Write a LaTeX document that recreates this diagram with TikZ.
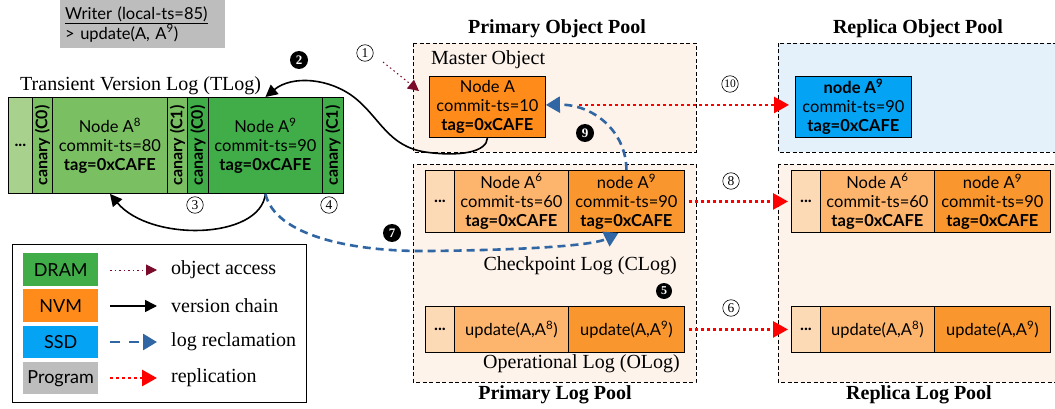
\documentclass[tikz,border=0pt]{standalone}
\usepackage{fontspec}
\usepackage{graphicx}
\setmainfont{Liberation Serif}
\newfontfamily\sansf{Lato}
\usetikzlibrary{arrows.meta}

% memory tiers
\definecolor{tlight}{HTML}{A9D18E}
\definecolor{tmid}{HTML}{7BBF63}
\definecolor{tdark}{HTML}{40AD48}
\definecolor{nvm}{HTML}{FF8C1A}
\definecolor{nvmB}{HTML}{F9962E}
\definecolor{nvmC}{HTML}{FDB56D}
\definecolor{nvmD}{HTML}{FDDAB6}
\definecolor{ssd}{HTML}{04A3F4}
\definecolor{prog}{HTML}{BDBDBD}
\definecolor{poolpeach}{HTML}{FDF3EA}
\definecolor{poolblue}{HTML}{E4F1FA}
\definecolor{reclaimblue}{HTML}{2F66A3}
\definecolor{accessred}{HTML}{7B0A2A}

\newcommand\sanstext{\sansf\fontsize{16.5}{19}\selectfont}
\newcommand\canarytext{\sansf\bfseries\fontsize{16}{16}\selectfont}
\newcommand\seriftext{\fontsize{20}{22}\selectfont}
\newcommand\titletext{\bfseries\fontsize{20}{22}\selectfont}
\newcommand\canary[1]{\rotatebox{90}{canary (#1)}}

\begin{document}
\begin{tikzpicture}[x=1pt,y=-1pt,
  cell/.style={draw, line width=0.9pt, anchor=north west, inner sep=0pt,
    align=center, font=\sanstext},
  canarycell/.style={cell, font=\canarytext},
  pool/.style={draw, line width=0.8pt, dash pattern=on 4pt off 2.5pt},
  label/.style={font=\seriftext, inner sep=0pt},
  pooltitle/.style={font=\titletext, inner sep=0pt},
  openno/.style={circle, draw, line width=0.6pt, inner sep=0pt,
    minimum size=16.5pt, font=\fontsize{13.5}{13.5}\selectfont},
  filledno/.style={circle, fill=black, text=white, inner sep=0pt,
    minimum size=18pt, font=\bfseries\fontsize{13}{13}\selectfont},
  chain/.style={line width=1.6pt, -{Triangle[length=12pt,width=12pt]}},
  reclaim/.style={line width=2.6pt, reclaimblue, dash pattern=on 8pt off 5pt,
    -{Triangle[length=14pt,width=16pt]}},
  repl/.style={line width=2.8pt, red, dash pattern=on 3pt off 3pt,
    -{Triangle[length=15pt,width=16pt]}},
  access/.style={line width=1pt, accessred, dash pattern=on 1.5pt off 3pt,
    -{Triangle[length=11pt,width=11pt]}},
  keybox/.style={anchor=north west, minimum width=75pt, minimum height=33pt,
    inner sep=0pt, font=\sansf\fontsize{18}{18}\selectfont},
]
\useasboundingbox (0,0) rectangle (1055,409);

% ---------- pools ----------
\draw[pool, fill=poolpeach] (413,43) rectangle (696,152);
\draw[pool, fill=poolpeach] (413,164) rectangle (696,382);
\draw[pool, fill=poolblue] (778,43) rectangle (1062,152);
\draw[pool, fill=poolpeach] (778,164) rectangle (1062,382);

\node[pooltitle] (tpo) at (557,29) {Primary Object Pool};
\node[pooltitle] (tro) at (918,29) {Replica Object Pool};
\node[pooltitle] (tpl) at (555,395) {Primary Log Pool};
\node[pooltitle] (trl) at (919,395) {Replica Log Pool};

% ---------- writer ----------
\node[fill=prog, anchor=north west, minimum width=165pt, minimum height=48pt,
  text width=155pt, align=left, inner sep=5pt, font=\sansf\fontsize{16.5}{20}\selectfont]
  (writer) at (60,0) {\underline{Writer (local-ts=85)}\\> update(A, A\textsuperscript{9})};

% ---------- transient version log ----------
\node[label, anchor=west] (tlogl) at (20,86) {Transient Version Log (TLog)};
\node[cell, fill=tlight, minimum width=24pt, minimum height=96pt] (tdots) at (8,97) {\textbf{...}};
\node[canarycell, fill=tmid, minimum width=20pt, minimum height=96pt] (tc0a) at (32,97) {\canary{C0}};
\node[cell, fill=tmid, minimum width=115pt, minimum height=96pt] (tA8) at (52,97)
  {Node A\textsuperscript{8}\\commit-ts=80\\\textbf{tag=0xCAFE}};
\node[canarycell, fill=tmid, minimum width=20pt, minimum height=96pt] (tc1a) at (167,97) {\canary{C1}};
\node[canarycell, fill=tdark, minimum width=21pt, minimum height=96pt] (tc0b) at (187,97) {\canary{C0}};
\node[cell, fill=tdark, minimum width=114pt, minimum height=96pt] (tA9) at (208,97)
  {Node A\textsuperscript{9}\\commit-ts=90\\\textbf{tag=0xCAFE}};
\node[canarycell, fill=tdark, minimum width=21pt, minimum height=96pt] (tc1b) at (322,97) {\canary{C1}};

% ---------- primary object pool ----------
\node[label, anchor=west] (mol) at (431,60) {Master Object};
\node[cell, fill=nvm, minimum width=116pt, minimum height=61pt] (nodeA) at (429,76)
  {Node A\\commit-ts=10\\\textbf{tag=0xCAFE}};

% ---------- primary log pool ----------
\node[cell, fill=nvmD, minimum width=29pt, minimum height=62pt] (cdots) at (425,170) {\textbf{...}};
\node[cell, fill=nvmC, minimum width=114pt, minimum height=62pt] (cA6) at (454,170)
  {Node A\textsuperscript{6}\\commit-ts=60\\\textbf{tag=0xCAFE}};
\node[cell, fill=nvmB, minimum width=116pt, minimum height=62pt] (cA9) at (568,170)
  {node A\textsuperscript{9}\\commit-ts=90\\\textbf{tag=0xCAFE}};
\node[label, anchor=east] (clogl) at (677,266) {Checkpoint Log (CLog)};

\node[cell, fill=nvmD, minimum width=29pt, minimum height=46pt] (odots) at (425,306) {\textbf{...}};
\node[cell, fill=nvmC, minimum width=114pt, minimum height=46pt] (oA8) at (454,306) {update(A,A\textsuperscript{8})};
\node[cell, fill=nvmB, minimum width=116pt, minimum height=46pt] (oA9) at (568,306) {update(A,A\textsuperscript{9})};
\node[label, anchor=east] (ologl) at (680,364) {Operational Log (OLog)};

% ---------- replica pools ----------
\node[cell, fill=ssd, minimum width=116pt, minimum height=61pt] (rA9) at (795,76)
  {\textbf{node A\textsuperscript{9}}\\commit-ts=90\\\textbf{tag=0xCAFE}};

\node[cell, fill=nvmD, minimum width=29pt, minimum height=62pt] (rcdots) at (791,170) {\textbf{...}};
\node[cell, fill=nvmC, minimum width=114pt, minimum height=62pt] (rcA6) at (820,170)
  {Node A\textsuperscript{6}\\commit-ts=60\\\textbf{tag=0xCAFE}};
\node[cell, fill=nvmB, minimum width=116pt, minimum height=62pt] (rcA9) at (934,170)
  {node A\textsuperscript{9}\\commit-ts=90\\\textbf{tag=0xCAFE}};

\node[cell, fill=nvmD, minimum width=29pt, minimum height=46pt] (rodots) at (791,306) {\textbf{...}};
\node[cell, fill=nvmC, minimum width=114pt, minimum height=46pt] (roA8) at (820,306) {update(A,A\textsuperscript{8})};
\node[cell, fill=nvmB, minimum width=116pt, minimum height=46pt] (roA9) at (934,306) {update(A,A\textsuperscript{9})};

% ---------- connectors ----------
\coordinate (accstart) at (383,62);
\coordinate (acctip) at (419,91);
\draw[access] (accstart) -- (acctip);

\draw[chain] (nodeA.south) .. controls (487,152) and (460,157) .. (425,152)
  .. controls (388,146) and (380,118) .. (355,98)
  .. controls (330,78) and (292,75) .. (tA9.north);
\draw[chain] (tA9.south) .. controls (260,240) and (150,242) .. (tA8.south);

\draw[reclaim] (tA9.south) .. controls (275,235) and (350,252) .. (430,251)
  .. controls (520,250) and (592,246) .. ([xshift=-8pt]cA9.south);
\draw[reclaim] (cA9.north) .. controls (626,130) and (592,104) .. ([yshift=2pt]nodeA.east);

\draw[repl, shorten <=33pt, shorten >=6pt] ([yshift=2pt]nodeA.east) -- ([yshift=2pt]rA9.west);
\draw[repl, shorten <=4pt, shorten >=3pt] (cA9.east) -- (rcdots.west);
\draw[repl, shorten <=4pt, shorten >=3pt] (oA9.east) -- (rodots.west);

% ---------- step numbers ----------
\node[openno] (n1) at (365,53) {1};
\node[filledno] (n2) at (299,60) {2};
\node[openno] (n3) at (195,205) {3};
\node[openno] (n4) at (329,205) {4};
\node[filledno, minimum size=16pt, font=\bfseries\fontsize{12}{12}\selectfont] (n5) at (664,291) {5};
\node[openno] (n6) at (731,308) {6};
\node[filledno] (n7) at (392,233) {7};
\node[openno] (n8) at (731,181) {8};
\node[filledno] (n9) at (585,133) {9};
\node[openno, font=\fontsize{11.5}{11.5}\selectfont] (n10) at (730,84) {10};

% ---------- legend ----------
\node[draw, line width=0.9pt, fill=white, anchor=north west, minimum width=294pt,
  minimum height=158pt] (legend) at (12,244) {};
\node[keybox, fill=tdark] (kdram) at (23,253) {DRAM};
\node[keybox, fill=nvm] (knvm) at (23,289) {NVM};
\node[keybox, fill=ssd, minimum height=32pt] (kssd) at (23,326) {SSD};
\node[keybox, fill=prog, minimum height=32pt] (kprog) at (23,362) {Program};

\coordinate (l1s) at (110,270); \coordinate (l1e) at (157,270);
\coordinate (l2s) at (110,306); \coordinate (l2e) at (157,306);
\coordinate (l3s) at (110,342); \coordinate (l3e) at (157,342);
\coordinate (l4s) at (110,378); \coordinate (l4e) at (157,378);
\draw[access] (l1s) -- (l1e);
\draw[chain] (l2s) -- (l2e);
\draw[reclaim, dash pattern=on 10pt off 9pt] (l3s) -- (l3e);
\draw[repl] (l4s) -- (l4e);
\node[label, anchor=west] (t1) at (171,270) {object access};
\node[label, anchor=west] (t2) at (171,306) {version chain};
\node[label, anchor=west] (t3) at (171,342) {log reclamation};
\node[label, anchor=west] (t4) at (171,378) {replication};
\end{tikzpicture}
\end{document}
